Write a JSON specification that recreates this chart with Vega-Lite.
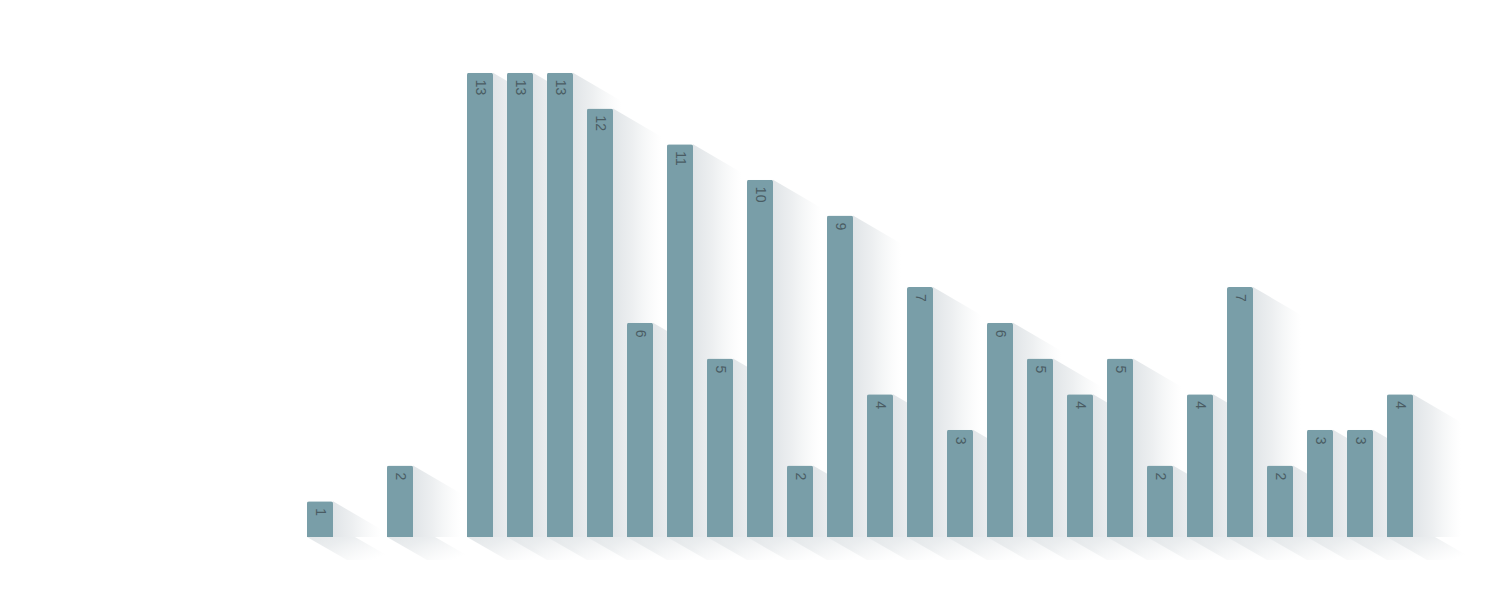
{
  "$schema": "https://vega.github.io/schema/vega-lite/v6.json",
  "width": 1180,
  "height": 500,
  "autosize": "none",
  "padding": {"left": 300, "top": 37, "right": 8, "bottom": 64},
  "background": "#ffffff",
  "view": {"stroke": null},
  "data": {
    "values": [
      {"slot": 1, "value": 1}, {"slot": 2, "value": 0}, {"slot": 3, "value": 2}, {"slot": 4, "value": 0},
      {"slot": 5, "value": 13}, {"slot": 6, "value": 13}, {"slot": 7, "value": 13}, {"slot": 8, "value": 12},
      {"slot": 9, "value": 6}, {"slot": 10, "value": 11}, {"slot": 11, "value": 5}, {"slot": 12, "value": 10},
      {"slot": 13, "value": 2}, {"slot": 14, "value": 9}, {"slot": 15, "value": 4}, {"slot": 16, "value": 7},
      {"slot": 17, "value": 3}, {"slot": 18, "value": 6}, {"slot": 19, "value": 5}, {"slot": 20, "value": 4},
      {"slot": 21, "value": 5}, {"slot": 22, "value": 2}, {"slot": 23, "value": 4}, {"slot": 24, "value": 7},
      {"slot": 25, "value": 2}, {"slot": 26, "value": 3}, {"slot": 27, "value": 3}, {"slot": 28, "value": 4}
    ]
  },
  "layer": [
    {
      "transform": [{"filter": "datum.value > 0"}],
      "mark": {
        "type": "point",
        "shape": "M0,0L48,0L88,23L40,23Z",
        "size": 4,
        "filled": true,
        "opacity": 1,
        "strokeWidth": 0,
        "color": {
          "gradient": "linear", "x1": 0, "y1": 0, "x2": 1, "y2": 0.6,
          "stops": [
            {"offset": 0, "color": "rgba(226,230,232,1)"},
            {"offset": 0.35, "color": "rgba(232,235,237,0.9)"},
            {"offset": 1, "color": "rgba(240,242,243,0)"}
          ]
        }
      },
      "encoding": {
        "x": {"field": "slot", "type": "ordinal", "bandPosition": 0,
              "scale": {"type": "band", "range": [0, 1120], "paddingInner": 0.35, "paddingOuter": 0.175}, "axis": null},
        "y": {"datum": 0, "type": "quantitative", "scale": {"domain": [0, 14], "nice": false}, "axis": null}
      }
    },
    {
      "transform": [{"filter": "datum.value > 0"}],
      "mark": {
        "type": "point",
        "shape": "M0,0L48,28L48,600L0,600Z",
        "size": 4,
        "filled": true,
        "opacity": 1,
        "strokeWidth": 0,
        "clip": true,
        "color": {
          "gradient": "linear", "x1": 0, "y1": 0, "x2": 1, "y2": 0,
          "stops": [
            {"offset": 0, "color": "rgba(224,228,231,1)"},
            {"offset": 0.4, "color": "rgba(232,235,237,0.8)"},
            {"offset": 1, "color": "rgba(240,242,243,0)"}
          ]
        }
      },
      "encoding": {
        "x": {"field": "slot", "type": "ordinal", "bandPosition": 1},
        "y": {"field": "value", "type": "quantitative"}
      }
    },
    {
      "mark": {
        "type": "bar",
        "color": "#799ea8",
        "cornerRadiusTopLeft": 2,
        "cornerRadiusTopRight": 2
      },
      "encoding": {
        "x": {"field": "slot", "type": "ordinal"},
        "y": {"field": "value", "type": "quantitative"}
      }
    },
    {
      "transform": [{"filter": "datum.value > 0"}],
      "mark": {
        "type": "text",
        "angle": 90,
        "align": "left",
        "baseline": "middle",
        "dx": 7,
        "font": "Liberation Sans",
        "fontSize": 14,
        "color": "#4a5c63"
      },
      "encoding": {
        "x": {"field": "slot", "type": "ordinal"},
        "y": {"field": "value", "type": "quantitative"},
        "text": {"field": "value", "type": "quantitative"}
      }
    }
  ]
}
